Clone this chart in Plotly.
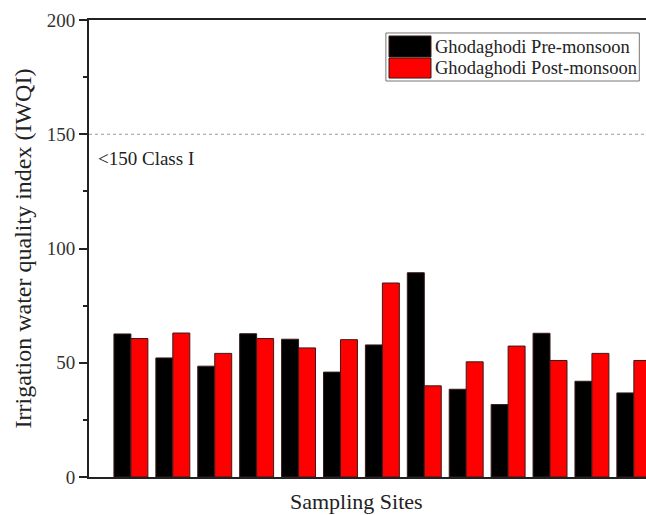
import plotly.graph_objects as go

sites = [1, 2, 3, 4, 5, 6, 7, 8, 9, 10, 11, 12, 13]
pre_monsoon = [62.6, 52.1, 48.5, 62.7, 60.3, 45.9, 57.8, 89.4, 38.4, 31.7, 62.9, 41.9, 36.8]
post_monsoon = [60.6, 63.0, 54.1, 60.6, 56.5, 60.1, 84.9, 39.9, 50.4, 57.3, 51.0, 54.1, 51.0]
series_names = ["Ghodaghodi Pre-monsoon", "Ghodaghodi Post-monsoon"]
series_colors = ["#000000", "#ff0000"]
class_limit = 150
class_label = "<150 Class I"
y_ticks = [0, 50, 100, 150, 200]

FONT = "Liberation Serif"

fig = go.Figure()
for name, vals, col in zip(series_names, [pre_monsoon, post_monsoon], series_colors):
    fig.add_trace(go.Bar(
        x=sites, y=vals, name=name,
        marker=dict(color=col, line=dict(color="#3a1a1a", width=1)),
        showlegend=False,
    ))

fig.update_layout(
    width=646, height=515,
    margin=dict(l=89, r=0, t=20, b=38),
    paper_bgcolor="white", plot_bgcolor="white",
    barmode="group", bargap=0.19, bargroupgap=0,
    font=dict(family=FONT, color="#222222"),
)

fig.update_xaxes(
    range=[0, 13.29], showticklabels=False, ticks="",
    showline=True, linecolor="#222222", linewidth=2, mirror=True,
    showgrid=False, zeroline=False,
)
fig.update_yaxes(
    range=[0, 200], tickvals=y_ticks,
    ticks="outside", ticklen=8, tickwidth=1.5, tickcolor="#222222",
    minor=dict(dtick=25, ticks="outside", ticklen=4, tickwidth=1.5, tickcolor="#222222", showgrid=False),
    showline=True, linecolor="#222222", linewidth=2, mirror=False,
    showgrid=False, zeroline=False,
    tickfont=dict(family=FONT, size=19, color="#333333"),
    title=dict(text="Irrigation water quality index (IWQI)",
               font=dict(family=FONT, size=24, color="#222222"), standoff=8),
)

# threshold dotted line
fig.add_shape(type="line", xref="paper", x0=0, x1=1, yref="y", y0=class_limit, y1=class_limit,
              line=dict(color="#999999", width=1, dash="dot"))
fig.add_annotation(xref="paper", yref="y", x=0.012, y=class_limit - 10.5, text=class_label,
                   showarrow=False, xanchor="left", yanchor="middle",
                   font=dict(family=FONT, size=19, color="#222222"))

# x-axis title
fig.add_annotation(xref="paper", yref="paper", x=0.481, y=-0.0855, text="Sampling Sites",
                   showarrow=False, xanchor="center", yanchor="bottom",
                   font=dict(family=FONT, size=22, color="#222222"))

# legend box (manual, to reproduce the large swatches)
fig.add_shape(type="rect", xref="paper", yref="paper", x0=0.533, x1=0.988, y0=0.8665, y1=0.9716,
              line=dict(color="#777777", width=1), fillcolor="white")
sw_y = [(0.919, 0.965), (0.873, 0.9168)]
txt_y = [0.942, 0.895]
for (y0, y1), ty, name, col in zip(sw_y, txt_y, series_names, series_colors):
    fig.add_shape(type="rect", xref="paper", yref="paper", x0=0.5386, x1=0.614, y0=y0, y1=y1,
                  line=dict(color="#3a1a1a", width=1), fillcolor=col)
    fig.add_annotation(xref="paper", yref="paper", x=0.617, y=ty, text=name, showarrow=False,
                       xanchor="left", yanchor="middle",
                       font=dict(family=FONT, size=18.5, color="#222222"))

fig.write_html("out.html")
